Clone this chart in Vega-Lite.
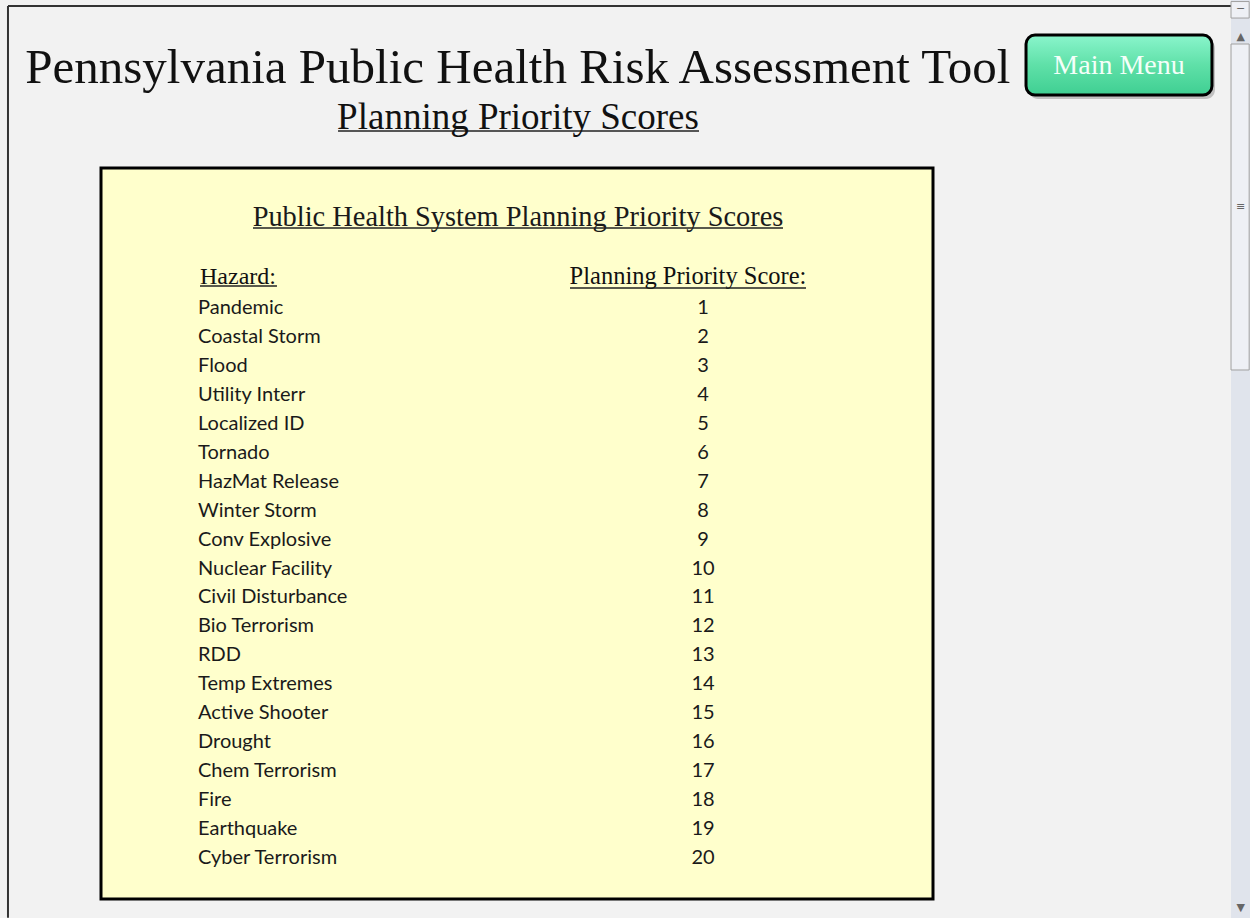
{
  "$schema": "https://vega.github.io/schema/vega-lite/v6.json",
  "autosize": {"type": "none"},
  "width": 832,
  "height": 731,
  "padding": {"left": 101, "top": 168, "right": 317, "bottom": 19},
  "background": "#f2f2f2",
  "config": {"view": {"stroke": "#000000", "strokeWidth": 3, "fill": "#ffffcc"}},
  "datasets": {
    "scores": [
      {"hazard": "Pandemic", "score": 1},
      {"hazard": "Coastal Storm", "score": 2},
      {"hazard": "Flood", "score": 3},
      {"hazard": "Utility Interr", "score": 4},
      {"hazard": "Localized ID", "score": 5},
      {"hazard": "Tornado", "score": 6},
      {"hazard": "HazMat Release", "score": 7},
      {"hazard": "Winter Storm", "score": 8},
      {"hazard": "Conv Explosive", "score": 9},
      {"hazard": "Nuclear Facility", "score": 10},
      {"hazard": "Civil Disturbance", "score": 11},
      {"hazard": "Bio Terrorism", "score": 12},
      {"hazard": "RDD", "score": 13},
      {"hazard": "Temp Extremes", "score": 14},
      {"hazard": "Active Shooter", "score": 15},
      {"hazard": "Drought", "score": 16},
      {"hazard": "Chem Terrorism", "score": 17},
      {"hazard": "Fire", "score": 18},
      {"hazard": "Earthquake", "score": 19},
      {"hazard": "Cyber Terrorism", "score": 20}
    ]
  },
  "layer": [
    {
      "data": {"name": "scores"},
      "mark": {"type": "text", "align": "left", "baseline": "middle", "dy": 1, "font": "Lato", "fontSize": 20, "color": "#1a1a1a"},
      "encoding": {
        "x": {"datum": 11.66, "type": "quantitative", "scale": {"domain": [0, 100], "nice": false, "zero": false}, "axis": null},
        "y": {"field": "score", "type": "quantitative", "scale": {"domain": [-3.8, 21.45], "reverse": true, "nice": false, "zero": false}, "axis": null},
        "text": {"field": "hazard"}
      }
    },
    {
      "data": {"name": "scores"},
      "mark": {"type": "text", "align": "center", "baseline": "middle", "dy": 1, "font": "Lato", "fontSize": 20, "color": "#1a1a1a"},
      "encoding": {
        "x": {"datum": 72.36, "type": "quantitative"},
        "y": {"field": "score", "type": "quantitative"},
        "text": {"field": "score"}
      }
    },
    {
      "data": {"values": [{"label": "Public Health System Planning Priority Scores"}]},
      "mark": {"type": "text", "align": "center", "baseline": "middle", "font": "Liberation Serif", "fontSize": 28.4, "color": "#1a1a1a"},
      "encoding": {
        "x": {"datum": 50.12, "type": "quantitative"},
        "y": {"datum": -2.11, "type": "quantitative"},
        "text": {"field": "label"}
      }
    },
    {
      "data": {"values": [{"label": "Hazard:"}]},
      "mark": {"type": "text", "align": "left", "baseline": "middle", "font": "Liberation Serif", "fontSize": 24, "color": "#111111"},
      "encoding": {
        "x": {"datum": 11.9, "type": "quantitative"},
        "y": {"datum": -0.03, "type": "quantitative"},
        "text": {"field": "label"}
      }
    },
    {
      "data": {"values": [{"label": "Planning Priority Score:"}]},
      "mark": {"type": "text", "align": "center", "baseline": "middle", "font": "Liberation Serif", "fontSize": 24.5, "color": "#111111"},
      "encoding": {
        "x": {"datum": 70.55, "type": "quantitative"},
        "y": {"datum": -0.03, "type": "quantitative"},
        "text": {"field": "label"}
      }
    },
    {
      "data": {"values": [{"x": 18.27, "x2": 81.97, "y": -1.728}, {"x": 11.9, "x2": 21.15, "y": 0.276}, {"x": 56.37, "x2": 84.74, "y": 0.345}, {"x": 28.49, "x2": 71.88, "y": -5.078}]},
      "mark": {"type": "rule", "color": "#222222", "strokeWidth": 1.5},
      "encoding": {
        "x": {"field": "x", "type": "quantitative"},
        "x2": {"field": "x2"},
        "y": {"field": "y", "type": "quantitative"}
      }
    },
    {
      "data": {"values": [{"label": "Pennsylvania Public Health Risk Assessment Tool"}]},
      "mark": {"type": "text", "align": "center", "baseline": "middle", "font": "Liberation Serif", "fontSize": 49, "color": "#111111"},
      "encoding": {
        "x": {"datum": 50.1, "type": "quantitative"},
        "y": {"datum": -7.25, "type": "quantitative"},
        "text": {"field": "label"}
      }
    },
    {
      "data": {"values": [{"label": "Planning Priority Scores"}]},
      "mark": {"type": "text", "align": "center", "baseline": "middle", "font": "Liberation Serif", "fontSize": 37, "color": "#111111"},
      "encoding": {
        "x": {"datum": 50.12, "type": "quantitative"},
        "y": {"datum": -5.53, "type": "quantitative"},
        "text": {"field": "label"}
      }
    },
    {
      "data": {"values": [{"x": -11.18, "x2": 135.94, "y": -9.396, "y2": -9.396}, {"x": -11.18, "x2": -11.18, "y": -9.396, "y2": 22.1}]},
      "mark": {"type": "rule", "color": "#333333", "strokeWidth": 2},
      "encoding": {
        "x": {"field": "x", "type": "quantitative"},
        "x2": {"field": "x2"},
        "y": {"field": "y", "type": "quantitative"},
        "y2": {"field": "y2"}
      }
    },
    {
      "data": {"values": [{}]},
      "mark": {"type": "rect", "cornerRadius": 9, "fill": "#666666", "opacity": 0.35},
      "encoding": {
        "x": {"datum": 111.54, "type": "quantitative"},
        "x2": {"datum": 133.89},
        "y": {"datum": -8.25, "type": "quantitative"},
        "y2": {"datum": -6.18}
      }
    },
    {
      "data": {"values": [{}]},
      "mark": {"type": "rect", "cornerRadius": 9, "stroke": "#000000", "strokeWidth": 3, "fill": {"gradient": "linear", "x1": 0, "y1": 0, "x2": 0, "y2": 1, "stops": [{"offset": 0, "color": "#8af5cc"}, {"offset": 0.5, "color": "#5fe0a8"}, {"offset": 1, "color": "#3fcf92"}]}},
      "encoding": {
        "x": {"datum": 111.18, "type": "quantitative"},
        "x2": {"datum": 133.53},
        "y": {"datum": -8.39, "type": "quantitative"},
        "y2": {"datum": -6.32}
      }
    },
    {
      "data": {"values": [{"label": "Main Menu"}]},
      "mark": {"type": "text", "align": "center", "baseline": "middle", "font": "Liberation Serif", "fontSize": 28, "color": "#f4fff9"},
      "encoding": {
        "x": {"datum": 122.36, "type": "quantitative"},
        "y": {"datum": -7.32, "type": "quantitative"},
        "text": {"field": "label"}
      }
    },
    {
      "data": {"values": [{}]},
      "mark": {"type": "rect", "fill": "#e0e4ec"},
      "encoding": {
        "x": {"datum": 135.82, "type": "quantitative"},
        "x2": {"datum": 138.1},
        "y": {"datum": -9.603, "type": "quantitative"},
        "y2": {"datum": 22.105}
      }
    },
    {
      "data": {"values": [{"y": -9.55, "y2": -8.98}, {"y": -8.083, "y2": 3.177}]},
      "mark": {"type": "rect", "fill": "#eef0f5", "stroke": "#a0a0a0", "strokeWidth": 1},
      "encoding": {
        "x": {"datum": 135.82, "type": "quantitative"},
        "x2": {"datum": 138.0},
        "y": {"field": "y", "type": "quantitative"},
        "y2": {"field": "y2"}
      }
    },
    {
      "data": {"values": [{"label": "▲", "y": -8.325}, {"label": "▼", "y": 21.76}, {"label": "≡", "y": -2.453}, {"label": "−", "y": -9.3}]},
      "mark": {"type": "text", "align": "center", "baseline": "middle", "font": "DejaVu Sans", "fontSize": 11, "color": "#666666"},
      "encoding": {
        "x": {"datum": 136.98, "type": "quantitative"},
        "y": {"field": "y", "type": "quantitative"},
        "text": {"field": "label"}
      }
    }
  ]
}
